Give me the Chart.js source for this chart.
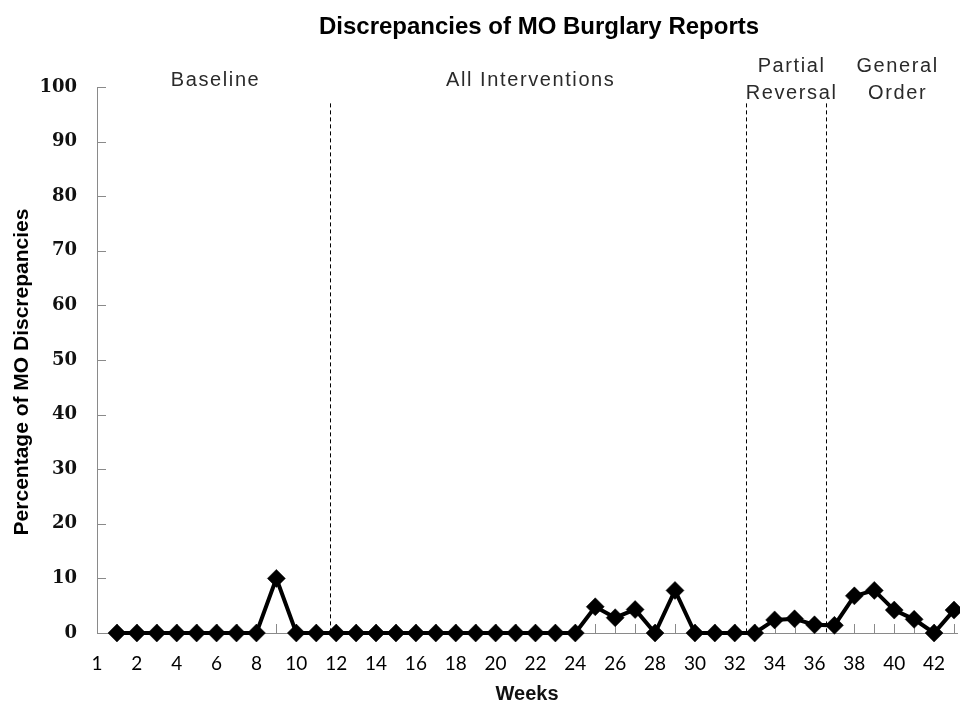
<!DOCTYPE html>
<html>
<head>
<meta charset="utf-8">
<script src="https://cdn.jsdelivr.net/npm/chart.js@4"></script>
<style>
  html, body { margin: 0; padding: 0; background: #fff; }
  #wrap { width: 960px; height: 706px; position: relative; }
</style>
</head>
<body>
<div id="wrap"><canvas id="c" width="960" height="706"></canvas></div>
<script>
// ---- Data ----
const weeks = [1,2,3,4,5,6,7,8,9,10,11,12,13,14,15,16,17,18,19,20,21,22,23,24,25,26,27,28,29,30,31,32,33,34,35,36,37,38,39,40,41,42,43];
const discrepancies = [0,0,0,0,0,0,0,0,10,0,0,0,0,0,0,0,0,0,0,0,0,0,0,0,4.8,2.8,4.3,0,7.8,0,0,0,0,2.4,2.6,1.5,1.4,6.8,7.8,4.2,2.5,0,4.2];
const xLabelWeeks = [0,2,4,6,8,10,12,14,16,18,20,22,24,26,28,30,32,34,36,38,40,42];
const xTickLabels = ['1','2','4','6','8','10','12','14','16','18','20','22','24','26','28','30','32','34','36','38','40','42'];
const yTickValues = [0,10,20,30,40,50,60,70,80,90,100];
const phaseChangeWeeks = [11.7, 32.55, 36.6];
const phaseLabels = [['Baseline'], ['All Interventions'], ['Partial','Reversal'], ['General','Order']];
const phaseLabelWeeks = [5.95, 21.76, 34.85, 40.17];
const chartTitle = 'Discrepancies of MO Burglary Reports';
const xTitle = 'Weeks';
const yTitle = 'Percentage of MO Discrepancies';

const AXIS_GRAY = '#8a8a8a';

const decorPlugin = {
  id: 'decor',
  beforeDatasetsDraw(chart) {
    const {ctx, chartArea, scales: {x, y}} = chart;
    ctx.save();
    // inward tick marks
    ctx.strokeStyle = AXIS_GRAY;
    ctx.lineWidth = 1;
    ctx.beginPath();
    yTickValues.forEach(v => {
      const py = Math.round(y.getPixelForValue(v)) + 0.5;
      ctx.moveTo(chartArea.left, py);
      ctx.lineTo(chartArea.left + 9, py);
    });
    weeks.forEach(w => {
      const px = Math.round(x.getPixelForValue(w)) + 0.5;
      ctx.moveTo(px, chartArea.bottom);
      ctx.lineTo(px, chartArea.bottom - 9);
    });
    ctx.stroke();
    // phase change dashed lines
    ctx.strokeStyle = '#000';
    ctx.setLineDash([4, 3]);
    ctx.beginPath();
    phaseChangeWeeks.forEach(w => {
      const px = Math.round(x.getPixelForValue(w)) + 0.5;
      ctx.moveTo(px, y.getPixelForValue(97));
      ctx.lineTo(px, chartArea.bottom);
    });
    ctx.stroke();
    ctx.setLineDash([]);
    // phase labels
    ctx.fillStyle = '#2a2a2a';
    ctx.font = '20px "Liberation Sans", Arial, sans-serif';
    ctx.letterSpacing = '1.6px';
    ctx.textAlign = 'center';
    ctx.textBaseline = 'middle';
    phaseLabels.forEach((lines, i) => {
      const px = x.getPixelForValue(phaseLabelWeeks[i]);
      const n = lines.length;
      lines.forEach((t, j) => {
        const py = chartArea.top - 7 + (j - (n - 1) / 2) * 27;
        ctx.fillText(t, px, py);
      });
    });
    ctx.letterSpacing = '0px';
    // chart title
    ctx.fillStyle = '#000';
    ctx.font = 'bold 24px "Liberation Sans", Arial, sans-serif';
    ctx.fillText(chartTitle, 539, 27);
    // y axis title
    ctx.font = 'bold 21px "Liberation Sans", Arial, sans-serif';
    ctx.translate(22, 372);
    ctx.rotate(-Math.PI / 2);
    ctx.fillText(yTitle, 0, 0);
    ctx.restore();
  }
};

new Chart(document.getElementById('c'), {
  type: 'line',
  data: {
    datasets: [{
      label: 'MO discrepancies',
      data: weeks.map((w, i) => ({x: w, y: discrepancies[i]})),
      borderColor: '#000',
      backgroundColor: '#000',
      borderWidth: 4,
      pointStyle: 'rectRot',
      pointRadius: 9,
      pointBorderWidth: 0.5,
      pointBackgroundColor: '#000',
      pointBorderColor: '#000',
      tension: 0,
      clip: false
    }]
  },
  options: {
    responsive: false,
    animation: false,
    devicePixelRatio: 1,
    layout: { autoPadding: false, padding: { top: 87, right: 3, left: 0, bottom: 0 } },
    plugins: {
      legend: { display: false },
      tooltip: { enabled: false },
      title: { display: false }
    },
    scales: {
      x: {
        type: 'linear',
        min: 0,
        max: 43.15,
        afterFit: s => { s.height = 73; s.paddingLeft = 0; s.paddingRight = 0; },
        afterBuildTicks: s => { s.ticks = xLabelWeeks.map(v => ({value: v})); },
        grid: { display: true, drawOnChartArea: false, drawTicks: false, color: 'rgba(0,0,0,0)' },
        border: { display: true, color: AXIS_GRAY, width: 1 },
        ticks: {
          autoSkip: false,
          maxRotation: 0,
          minRotation: 0,
          padding: 19,
          color: '#000',
          font: { family: 'Lato, "Liberation Sans", sans-serif', size: 19 },
          callback: (v, i) => xTickLabels[i]
        },
        title: {
          display: true,
          text: xTitle,
          color: '#111',
          font: { family: '"Liberation Sans", Arial, sans-serif', size: 20, weight: 'bold' },
          padding: { top: 0, bottom: 0 }
        }
      },
      y: {
        min: 0,
        max: 100,
        afterFit: s => { s.width = 97; s.paddingTop = 0; s.paddingBottom = 0; },
        afterBuildTicks: s => { s.ticks = yTickValues.map(v => ({value: v})); },
        grid: { display: true, drawOnChartArea: false, drawTicks: false, color: 'rgba(0,0,0,0)' },
        border: { display: true, color: AXIS_GRAY, width: 1 },
        ticks: {
          padding: 20,
          color: '#111',
          font: { family: '"DejaVu Serif", serif', size: 18, weight: 'bold' }
        },
        title: { display: false, text: yTitle }
      }
    }
  },
  plugins: [decorPlugin]
});
</script>
</body>
</html>
